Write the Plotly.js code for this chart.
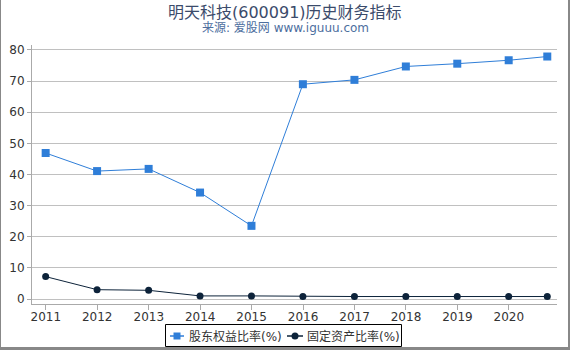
<!DOCTYPE html>
<html><head><meta charset="utf-8">
<script src="https://cdn.plot.ly/plotly-3.0.1.min.js"></script>
<style>
html,body{margin:0;padding:0;background:#fff;}
#wrap{width:567px;height:347px;border-left:1px solid #888;border-right:2px solid #888;border-bottom:3px solid #888;}
#chart{width:567px;height:347px;}
</style></head>
<body><div id="wrap"><div id="chart"></div></div>
<script>
const dates = ["2010-12-31","2011-12-31","2012-12-31","2013-12-31","2014-12-31","2015-12-31","2016-12-31","2017-12-31","2018-12-31","2019-12-31","2020-09-30"];
const equityRatio = [46.9, 41.1, 41.8, 34.2, 23.5, 69.0, 70.4, 74.7, 75.6, 76.7, 77.9];
const fixedAssetRatio = [7.2, 3.0, 2.8, 1.0, 1.0, 0.8, 0.8, 0.8, 0.8, 0.8, 0.8];
const tickVals = ["2011-01-01","2012-01-01","2013-01-01","2014-01-01","2015-01-01","2016-01-01","2017-01-01","2018-01-01","2019-01-01","2020-01-01"];
const tickText = ["2011","2012","2013","2014","2015","2016","2017","2018","2019","2020"];
const series1Name = "股东权益比率(%)";
const series2Name = "固定资产比率(%)";
const titleText = "明天科技(600091)历史财务指标";
const subtitleText = "来源: 爱股网 www.iguuu.com";
const color1 = "#2f7ed8", color2 = "#0d233a";

const traces = [
 {x: dates, y: equityRatio, name: series1Name, type: "scatter", mode: "lines+markers",
  line: {color: color1, width: 1}, marker: {symbol: "square", size: 8, color: color1}},
 {x: dates, y: fixedAssetRatio, name: series2Name, type: "scatter", mode: "lines+markers",
  line: {color: color2, width: 1}, marker: {symbol: "circle", size: 7, color: color2}}
];
const fam = "DejaVu Sans, Noto Sans CJK SC, sans-serif";
const M = {l: 31, r: 11, t: 45, b: 43}, W = 567, H = 347;
const pw = W - M.l - M.r, ph = H - M.t - M.b;
const px = v => (v - M.l) / pw;          // div px -> paper x
const py = v => (H - M.b - v) / ph;       // div px -> paper y

// hand-built legend (box, sample line + marker, label)
const legY = 336;
const shapes = [
 {type: "rect", xref: "paper", yref: "paper", x0: px(164.5), x1: px(400.5), y0: py(324.5), y1: py(346.5),
  line: {color: "#000", width: 1}, fillcolor: "rgba(0,0,0,0)"},
 {type: "line", xref: "paper", yref: "paper", x0: px(169), x1: px(183), y0: py(legY), y1: py(legY), line: {color: color1, width: 1.5}},
 {type: "rect", xref: "paper", yref: "paper", x0: px(172.5), x1: px(179.5), y0: py(legY - 3.5), y1: py(legY + 3.5), line: {width: 0}, fillcolor: color1},
 {type: "line", xref: "paper", yref: "paper", x0: px(286), x1: px(302), y0: py(legY), y1: py(legY), line: {color: color2, width: 1.5}},
 {type: "circle", xref: "paper", yref: "paper", x0: px(290.5), x1: px(297.5), y0: py(legY - 3.5), y1: py(legY + 3.5), line: {width: 0}, fillcolor: color2}
];

const layout = {
 width: W, height: H,
 margin: M,
 paper_bgcolor: "#fff", plot_bgcolor: "#fff",
 font: {family: fam, size: 12, color: "#333"},
 shapes: shapes,
 annotations: [
  {text: titleText, xref: "paper", yref: "paper", x: 0.482, y: 1.127, xanchor: "center", yanchor: "middle",
   showarrow: false, font: {size: 16, color: "#3b4b6b", family: fam}},
  {text: subtitleText, xref: "paper", yref: "paper", x: 0.482, y: 1.064, xanchor: "center", yanchor: "middle",
   showarrow: false, font: {size: 12, color: "#4d6e9e", family: fam}},
  {text: series1Name, xref: "paper", yref: "paper", x: px(186), y: py(legY), xanchor: "left", yanchor: "middle",
   showarrow: false, font: {size: 12, color: "#333", family: fam}},
  {text: series2Name, xref: "paper", yref: "paper", x: px(304), y: py(legY), xanchor: "left", yanchor: "middle",
   showarrow: false, font: {size: 12, color: "#333", family: fam}}
 ],
 xaxis: {type: "date", range: ["2010-09-25", "2020-12-08"], tickvals: tickVals, ticktext: tickText,
   showgrid: false, showline: true, linecolor: "#aaa", linewidth: 1, ticks: "outside", ticklen: 5, tickcolor: "#aaa",
   ticklabelstandoff: -3, zeroline: false, tickfont: {size: 12, color: "#333"}},
 yaxis: {range: [-1.6, 81.6], tickvals: [0,10,20,30,40,50,60,70,80], showgrid: true, gridcolor: "#c0c0c0",
   showline: true, linecolor: "#aaa", ticks: "outside", ticklen: 4, tickcolor: "#aaa", zeroline: false,
   tickfont: {size: 12, color: "#333"}},
 showlegend: false,
 hovermode: false
};
Plotly.newPlot("chart", traces, layout, {displayModeBar: false, staticPlot: true});
</script></body></html>
